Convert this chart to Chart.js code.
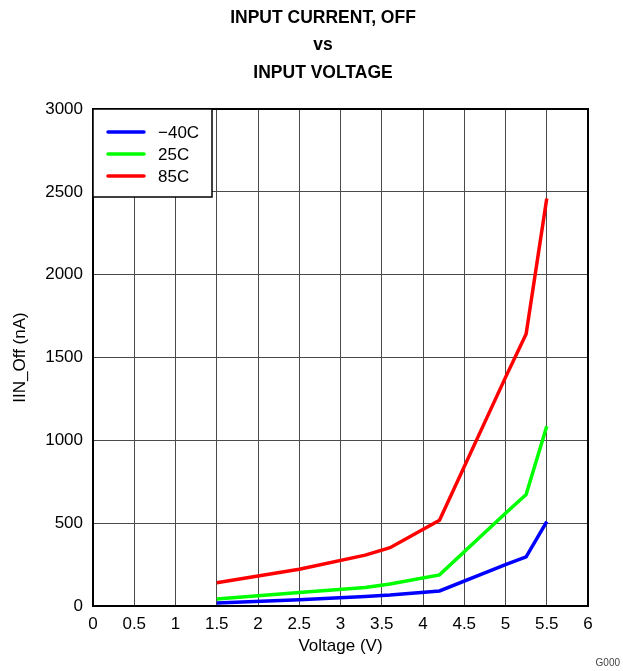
<!DOCTYPE html>
<html>
<head>
<meta charset="utf-8">
<script src="https://cdn.jsdelivr.net/npm/chart.js@4"></script>
<style>
    html, body { margin: 0; padding: 0; background: #fff; }
    #wrap { width: 623px; height: 671px; }
</style>
</head>
<body>
<div id="wrap"><canvas id="chart" width="623" height="671"></canvas></div>
<script>
const voltage = [1.5, 2.5, 3.3, 3.6, 4.2, 5.0, 5.25, 5.5];
const minus40C = [18, 38, 58, 66, 91, 250, 297, 509];
const plus25C = [42, 82, 112, 133, 188, 560, 673, 1085];
const plus85C = [140, 222, 307, 352, 518, 1380, 1642, 2460];

const seriesNames = ['\u221240C', '25C', '85C'];
const seriesColors = ['#0000ff', '#00ff00', '#ff0000'];
const xTicks = [0, 0.5, 1, 1.5, 2, 2.5, 3, 3.5, 4, 4.5, 5, 5.5, 6];
const yTicks = [0, 500, 1000, 1500, 2000, 2500, 3000];
const titleLines = ['INPUT CURRENT, OFF', 'vs', 'INPUT VOLTAGE'];

const FONT = '"Liberation Sans", Arial, sans-serif';

function toPoints(ys) {
    return ys.map((y, i) => ({ x: voltage[i], y: y }));
}

const decorations = {
    id: 'decorations',
    afterDraw(chart) {
        const ctx = chart.ctx;
        const area = chart.chartArea;
        ctx.save();

        // title
        ctx.fillStyle = '#000';
        ctx.font = 'bold 17.5px ' + FONT;
        ctx.textAlign = 'center';
        ctx.textBaseline = 'middle';
        titleLines.forEach((t, i) => ctx.fillText(t, 323, 18 + i * 27.5));

        // plot border
        ctx.strokeStyle = '#000';
        ctx.lineWidth = 2;
        ctx.strokeRect(area.left, area.top, area.right - area.left, area.bottom - area.top);

        // legend box
        const lx = area.left, ly = area.top;
        ctx.fillStyle = '#fff';
        ctx.fillRect(lx, ly, 119, 88);
        ctx.lineWidth = 1.5;
        ctx.strokeRect(lx, ly, 119, 88);
        ctx.font = '17px ' + FONT;
        ctx.textAlign = 'left';
        chart.data.datasets.forEach((ds, i) => {
            const yy = ly + 23 + i * 22;
            ctx.strokeStyle = ds.borderColor;
            ctx.lineWidth = 3.5;
            ctx.lineCap = 'round';
            ctx.beginPath();
            ctx.moveTo(lx + 15, yy);
            ctx.lineTo(lx + 51, yy);
            ctx.stroke();
            ctx.fillStyle = '#000';
            ctx.fillText(ds.label, lx + 65, yy + 1);
        });

        // figure code
        ctx.font = '10px ' + FONT;
        ctx.textAlign = 'right';
        ctx.fillStyle = '#444';
        ctx.fillText('G000', 620, 663);
        ctx.restore();
    }
};

const ctx = document.getElementById('chart').getContext('2d');
new Chart(ctx, {
    type: 'line',
    data: {
        datasets: [minus40C, plus25C, plus85C].map((vals, i) => ({
            label: seriesNames[i],
            data: toPoints(vals),
            borderColor: seriesColors[i],
            backgroundColor: seriesColors[i],
            borderWidth: 3.5,
            pointRadius: 0,
            tension: 0,
            fill: false
        }))
    },
    options: {
        responsive: false,
        animation: false,
        layout: { padding: { left: 0, top: 109, right: 35, bottom: 14 } },
        plugins: {
            legend: { display: false },
            title: { display: false },
            tooltip: { enabled: false }
        },
        scales: {
            x: {
                type: 'linear',
                min: 0,
                max: 6,
                afterBuildTicks: (scale) => { scale.ticks = xTicks.map(v => ({ value: v })); },
                afterFit: (scale) => { scale.height = 51; },
                grid: { color: '#4a4a4a', lineWidth: 1, drawTicks: false },
                border: { display: false },
                ticks: {
                    color: '#000',
                    font: { family: FONT, size: 17 },
                    padding: 8,
                    maxRotation: 0,
                    autoSkip: false,
                    callback: (v) => String(v)
                },
                title: {
                    display: true,
                    text: 'Voltage (V)',
                    color: '#000',
                    font: { family: FONT, size: 17 },
                    padding: { top: 0, bottom: 0 }
                }
            },
            y: {
                min: 0,
                max: 3000,
                afterBuildTicks: (scale) => { scale.ticks = yTicks.map(v => ({ value: v })); },
                afterFit: (scale) => { scale.width = 93; },
                grid: { color: '#4a4a4a', lineWidth: 1, drawTicks: false },
                border: { display: false },
                ticks: {
                    color: '#000',
                    font: { family: FONT, size: 17 },
                    padding: 10,
                    callback: (v) => String(v)
                },
                title: {
                    display: true,
                    text: 'IIN_Off (nA)',
                    color: '#000',
                    font: { family: FONT, size: 17 },
                    padding: { top: 10, bottom: 6 }
                }
            }
        }
    },
    plugins: [decorations]
});
</script>
</body>
</html>
